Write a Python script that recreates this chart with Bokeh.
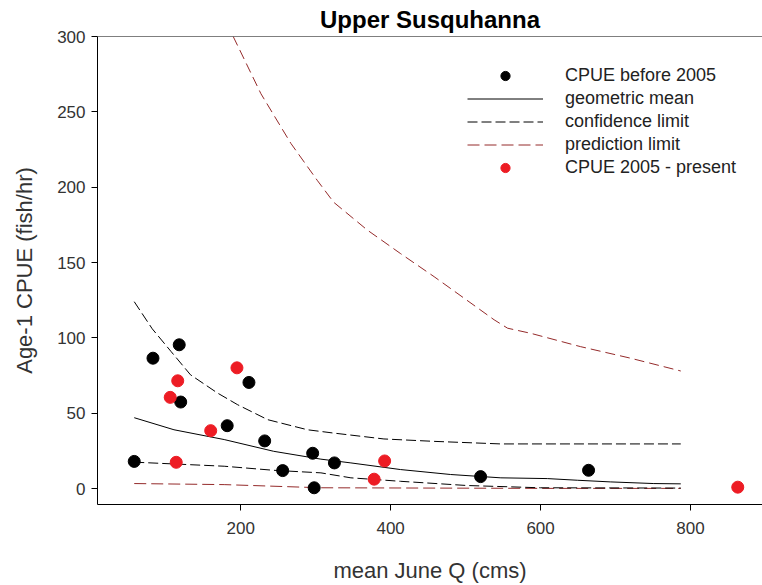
from bokeh.plotting import figure
from bokeh.models import Range1d, SingleIntervalTicker, Span, Legend, LegendItem
from bokeh.embed import file_html
from bokeh.resources import INLINE

# CPUE points
before_x = [58, 83, 118, 120, 182, 211, 232, 256, 296, 298, 325, 520, 664]
before_y = [18, 86.5, 95.4, 57.4, 41.7, 70.4, 31.6, 11.9, 23.4, 0.5, 17, 7.9, 12.1]
recent_x = [106, 116, 114, 160, 195, 378, 392, 863]
recent_y = [60.5, 71.5, 17.4, 38.4, 80.1, 6.2, 18.3, 0.9]

# geometric mean
gm_x = [58, 111, 178, 244, 307, 347, 413, 480, 547, 609, 649, 693, 751, 787]
gm_y = [47, 39, 32.5, 24.7, 19.5, 17, 12.6, 9.3, 7.1, 6.6, 5.5, 4.4, 3.3, 3.1]

# confidence limits
ucl_x = [58, 82, 107, 133, 169, 196, 236, 289, 324, 391, 458, 547, 787]
ucl_y = [124, 106, 91, 75.5, 63.4, 55.6, 45.7, 39, 36.8, 32.9, 31.3, 29.6, 29.6]
lcl_x = [58, 178, 244, 307, 347, 413, 502, 600, 787]
lcl_y = [17.5, 14.8, 12.1, 10.4, 7.1, 4.8, 2, 0.5, 0.3]

# prediction limits
upl_x = [190, 227, 267, 302, 324, 369, 413, 458, 538, 556, 587, 653, 720, 787]
upl_y = [300, 262, 229, 204.6, 190, 171.5, 156, 140.6, 112, 106.4, 103, 94.2, 86.5, 78]
lpl_x = [58, 178, 307, 600, 787]
lpl_y = [3.3, 2.6, 0.5, 0.1, 0.1]

FONT = "Liberation Sans"
PRED = "#942a2a"
RED = "#ED1C24"

p = figure(width=762, height=585, output_backend="svg", toolbar_location=None,
           x_range=Range1d(9, 896), y_range=Range1d(-10.6, 300),
           min_border_left=97, min_border_right=0, min_border_top=36, min_border_bottom=80,
           title="Upper Susquhanna")
p.outline_line_color = None
p.grid.visible = False
p.background_fill_color = "white"
p.border_fill_color = "white"

p.title.align = "center"
p.title.text_font = FONT
p.title.text_font_size = "24px"
p.title.text_font_style = "bold"
p.title.text_color = "black"
p.title.standoff = 7

p.xaxis.ticker = SingleIntervalTicker(interval=200, num_minor_ticks=0)
p.yaxis.ticker = SingleIntervalTicker(interval=50, num_minor_ticks=0)
for ax in (p.xaxis, p.yaxis):
    ax.axis_line_color = "black"
    ax.major_tick_line_color = "black"
    ax.major_tick_out = 6
    ax.major_tick_in = 0
    ax.minor_tick_line_color = None
    ax.major_label_text_font = FONT
    ax.major_label_text_font_size = "17px"
    ax.major_label_text_color = "#333333"
    ax.axis_label_text_font = FONT
    ax.axis_label_text_font_size = "22px"
    ax.axis_label_text_font_style = "normal"
    ax.axis_label_text_color = "#333333"
p.xaxis.axis_label = "mean June Q (cms)"
p.yaxis.axis_label = "Age-1 CPUE (fish/hr)"
p.xaxis.major_label_standoff = 11
p.xaxis.axis_label_standoff = 21
p.yaxis.major_label_standoff = 6
p.yaxis.axis_label_standoff = 17

p.add_layout(Span(location=300, dimension="width", line_color="black", line_width=1))

r_upl = p.line(upl_x, upl_y, line_color=PRED, line_width=1, line_dash="10 5")
r_lpl = p.line(lpl_x, lpl_y, line_color=PRED, line_width=1, line_dash="12 5")
r_ucl = p.line(ucl_x, ucl_y, line_color="black", line_width=1, line_dash="10 4")
r_lcl = p.line(lcl_x, lcl_y, line_color="black", line_width=1, line_dash="10 4")
r_gm = p.line(gm_x, gm_y, line_color="black", line_width=1)
r_b = p.scatter(before_x, before_y, size=12, fill_color="black", line_color="black")
r_r = p.scatter(recent_x, recent_y, size=12, fill_color=RED, line_color=RED)

legend = Legend(items=[
    LegendItem(label="CPUE before 2005", renderers=[r_b]),
    LegendItem(label="geometric mean", renderers=[r_gm]),
    LegendItem(label="confidence limit", renderers=[r_ucl]),
    LegendItem(label="prediction limit", renderers=[r_lpl]),
    LegendItem(label="CPUE 2005 - present", renderers=[r_r]),
], location=(370, 325))
legend.glyph_width = 76
legend.glyph_height = 23
legend.label_height = 23
legend.spacing = 0
legend.padding = 0
legend.margin = 0
legend.label_standoff = 22
legend.label_text_font = FONT
legend.label_text_font_size = "18px"
legend.label_text_color = "#222222"
legend.border_line_color = None
legend.background_fill_alpha = 0
p.add_layout(legend)

open("out.html", "w").write(file_html(p, INLINE))
